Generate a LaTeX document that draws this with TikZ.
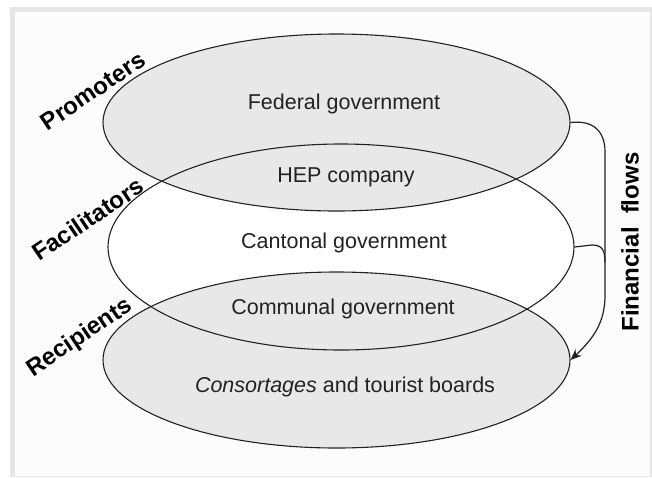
\documentclass[tikz,border=0pt]{standalone}
\usepackage{fontspec}
\setmainfont{Liberation Sans}
\usetikzlibrary{shapes.geometric,arrows.meta}
\definecolor{framegray}{HTML}{E6E6E6}
\definecolor{bgpaper}{HTML}{FCFCFC}
\definecolor{layerfill}{HTML}{E8E8E8}
\definecolor{inkline}{HTML}{222222}
\begin{document}
\begin{tikzpicture}[x=1pt,y=1pt,
  layer/.style={ellipse,draw=inkline,line width=1.1pt,inner sep=0pt},
  lbl/.style={font=\fontsize{21.5}{26}\selectfont,text=inkline},
  role/.style={font=\fontsize{24}{28}\selectfont\bfseries,rotate=34,text=black},
  flow/.style={draw=inkline,line width=1.2pt}]
\useasboundingbox (0,0) rectangle (652,-477);
\fill[white] (0,0) rectangle (652,-477);
\fill[framegray] (10,-7) rectangle (652,-477);
\fill[bgpaper] (15,-12) rectangle (650,-476);
% layers: fills first
\node[ellipse,fill=white,minimum width=466pt,minimum height=206pt,inner sep=0pt] at (341,-247) {};
\node[ellipse,fill=layerfill,minimum width=467pt,minimum height=177pt,inner sep=0pt] at (336.5,-122.5) {};
\node[ellipse,fill=layerfill,minimum width=467pt,minimum height=176pt,inner sep=0pt] at (336.5,-360) {};
% outlines
\node[layer,minimum width=467pt,minimum height=177pt] (e1) at (336.5,-122.5) {};
\node[layer,minimum width=466pt,minimum height=206pt] (e2) at (341,-247) {};
\node[layer,minimum width=467pt,minimum height=176pt] (e3) at (336.5,-360) {};
% texts
\node[lbl] (t1) at (344,-104) {Federal government};
\node[lbl] (t2) at (346,-177) {HEP company};
\node[lbl] (t3) at (344,-243) {Cantonal government};
\node[lbl] (t4) at (343,-309) {Communal government};
\node[lbl] (t5) at (345,-387) {\textit{Consortages} and tourist boards};
% roles
\node[role] (r1) at (93,-91) {Promoters};
\node[role] (r2) at (88,-219) {Facilitators};
\node[role] (r3) at (80,-338) {Recipients};
\node[font=\fontsize{24}{28}\selectfont\bfseries,rotate=90] (ff) at (630,-242) {Financial\ \ flows};
% flows
\coordinate (bend) at (605,-262);
\draw[flow,-{Stealth[length=11pt,width=9pt]}] (e1.east) .. controls (592,-120) and (605,-130) .. (605,-152) -- (605,-295) .. controls (605,-322) and (594,-338) .. (e3.east);
\draw[flow] (e2.east) -- (592,-245) .. controls (602,-245) and (605,-250) .. (bend);
\end{tikzpicture}
\end{document}
